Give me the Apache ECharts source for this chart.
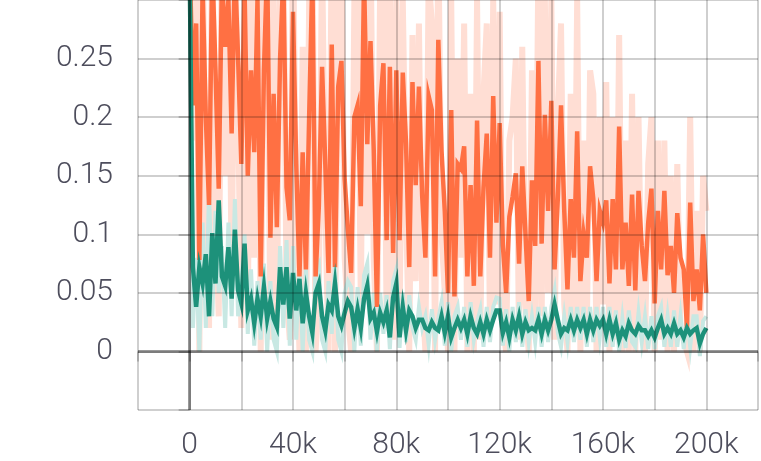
<!DOCTYPE html>
<html>
<head>
<meta charset="utf-8">
<script src="https://cdn.jsdelivr.net/npm/echarts@6/dist/echarts.min.js"></script>
<style>
html,body{margin:0;padding:0;background:#fff;}
#chart{width:761px;height:461px;}
</style>
</head>
<body>
<div id="chart"></div>
<script>
// Step interval between logged points (in training steps)
const stepInterval = 1250;

// Smoothed loss, orange run
const orangeSmooth = [0.34,0.21,0.28,0.078,0.31,0.20,0.125,0.33,0.24,0.139,
0.32,0.26,0.30,0.186,0.33,0.25,0.16,0.31,0.15,0.24,
0.17,0.30,0.064,0.24,0.33,0.097,0.22,0.106,0.25,0.32,
0.14,0.112,0.29,0.16,0.064,0.17,0.07,0.20,0.32,0.064,
0.124,0.243,0.16,0.067,0.262,0.072,0.226,0.248,0.147,0.104,
0.067,0.20,0.21,0.124,0.32,0.177,0.265,0.172,0.038,0.21,
0.246,0.095,0.243,0.084,0.24,0.095,0.238,0.178,0.072,0.23,
0.142,0.226,0.133,0.08,0.218,0.206,0.064,0.266,0.171,0.12,
0.05,0.206,0.047,0.16,0.156,0.175,0.064,0.142,0.056,0.197,
0.064,0.14,0.186,0.08,0.218,0.11,0.195,0.09,0.05,0.115,
0.132,0.152,0.075,0.158,0.10,0.043,0.146,0.09,0.248,0.092,
0.202,0.12,0.214,0.07,0.13,0.21,0.12,0.053,0.13,0.08,
0.188,0.06,0.10,0.08,0.158,0.13,0.06,0.12,0.11,0.129,
0.058,0.13,0.07,0.192,0.07,0.11,0.056,0.134,0.052,0.137,
0.09,0.06,0.11,0.139,0.041,0.12,0.07,0.137,0.065,0.09,
0.05,0.118,0.08,0.07,0.02,0.127,0.043,0.07,0.035,0.10,0.05];

// Raw loss, orange run
const orangeRaw = [0.36,0.18,0.36,0.0,0.36,0.10,0.02,0.36,0.12,0.03,
0.36,0.15,0.36,0.06,0.36,0.20,0.02,0.36,0.04,0.30,
0.08,0.36,0.0,0.30,0.36,0.01,0.30,0.02,0.32,0.36,
0.05,0.01,0.36,0.10,0.0,0.26,0.0,0.30,0.36,0.0,
0.05,0.34,0.12,0.0,0.36,0.0,0.30,0.34,0.08,0.03,
0.0,0.30,0.32,0.04,0.36,0.10,0.36,0.08,0.0,0.32,
0.34,0.02,0.32,0.01,0.30,0.02,0.30,0.12,0.0,0.27,
0.06,0.28,0.05,0.0,0.32,0.28,0.0,0.36,0.10,0.05,
0.0,0.30,0.0,0.25,0.08,0.28,0.0,0.22,0.0,0.30,
0.01,0.22,0.28,0.02,0.30,0.04,0.29,0.02,0.0,0.18,
0.20,0.25,0.01,0.26,0.04,0.0,0.24,0.02,0.34,0.03,
0.30,0.05,0.30,0.01,0.20,0.28,0.04,0.0,0.22,0.02,
0.30,0.0,0.18,0.02,0.24,0.22,0.0,0.20,0.04,0.23,
0.0,0.20,0.01,0.27,0.0,0.18,0.0,0.22,0.0,0.20,
0.03,0.0,0.16,0.20,0.0,0.18,0.01,0.18,0.0,0.15,
0.0,0.16,0.02,0.01,0.0,0.20,0.0,0.12,0.0,0.15,0.12];

// Smoothed loss, teal run
const tealSmooth = [0.33,0.072,0.038,0.072,0.058,0.083,0.030,0.101,0.058,0.129,
0.064,0.056,0.089,0.045,0.104,0.052,0.041,0.092,0.035,0.045,
0.024,0.045,0.030,0.055,0.028,0.043,0.028,0.021,0.072,0.040,
0.072,0.028,0.067,0.035,0.062,0.024,0.050,0.030,0.016,0.050,
0.058,0.030,0.018,0.040,0.035,0.058,0.030,0.022,0.033,0.043,
0.038,0.020,0.036,0.020,0.045,0.056,0.028,0.033,0.017,0.033,
0.025,0.035,0.012,0.046,0.058,0.012,0.038,0.018,0.035,0.030,
0.020,0.027,0.027,0.020,0.018,0.025,0.020,0.018,0.030,0.016,
0.030,0.012,0.020,0.027,0.020,0.027,0.015,0.030,0.020,0.015,
0.025,0.015,0.027,0.018,0.027,0.035,0.035,0.016,0.025,0.012,
0.027,0.018,0.030,0.015,0.025,0.018,0.020,0.018,0.027,0.015,
0.027,0.018,0.027,0.040,0.027,0.015,0.020,0.018,0.027,0.018,
0.027,0.020,0.027,0.015,0.027,0.018,0.027,0.022,0.027,0.015,
0.027,0.015,0.024,0.010,0.018,0.013,0.024,0.018,0.015,0.022,
0.018,0.018,0.013,0.018,0.012,0.020,0.027,0.015,0.020,0.015,
0.024,0.015,0.018,0.012,0.020,0.015,0.018,0.020,0.007,0.015,0.020];

// Raw loss, teal run
const tealRaw = [0.33,0.02,0.08,0.0,0.11,0.02,0.14,0.03,0.12,0.05,
0.09,0.02,0.11,0.03,0.13,0.03,0.06,0.10,0.015,0.07,
0.005,0.06,0.01,0.075,0.0,0.06,0.01,0.0,0.09,0.02,
0.095,0.005,0.09,0.01,0.08,0.0,0.07,0.01,0.0,0.07,
0.075,0.01,0.0,0.06,0.015,0.075,0.01,0.0,0.05,0.06,
0.055,0.0,0.055,0.005,0.065,0.075,0.01,0.05,0.0,0.05,
0.015,0.048,0.002,0.06,0.07,0.003,0.05,0.008,0.048,0.02,
0.01,0.038,0.02,0.03,0.006,0.036,0.01,0.028,0.042,0.005,
0.042,0.0,0.03,0.038,0.01,0.038,0.004,0.042,0.01,0.025,
0.036,0.004,0.038,0.008,0.038,0.046,0.045,0.005,0.036,0.0,
0.038,0.008,0.042,0.004,0.036,0.008,0.03,0.008,0.038,0.004,
0.038,0.008,0.038,0.052,0.016,0.004,0.03,0.008,0.038,0.008,
0.038,0.01,0.038,0.004,0.038,0.008,0.038,0.012,0.038,0.004,
0.038,0.004,0.035,0.0,0.028,0.003,0.035,0.008,0.004,0.033,
0.008,0.03,0.002,0.03,0.002,0.03,0.038,0.004,0.03,0.004,
0.035,0.004,0.03,0.002,0.03,0.004,0.03,0.03,-0.004,0.026,0.03];

// Axis ticks
const xMin = -20000, xMax = 220000, xInterval = 20000, xLabelEvery = 40000;
const yMin = -0.05, yMax = 0.3, yInterval = 0.05;

function pairs(vals){ return vals.map((v,i)=>[i*stepInterval, v]); }

const chart = echarts.init(document.getElementById('chart'), null, {renderer:'canvas'});
const gridColor = 'rgba(0,0,0,0.19)';
const labelStyle = {color:'#4d4d5c', fontFamily:'Roboto', fontWeight:300, fontSize:30};

chart.setOption({
  animation:false,
  backgroundColor:'#fff',
  grid:{left:138, top:0, width:624, height:410, containLabel:false},
  xAxis:{
    type:'value', min:xMin, max:xMax, interval:xInterval, z:5,
    axisLine:{show:false},
    axisTick:{show:true, length:10, lineStyle:{color:gridColor, width:2}},
    splitLine:{show:true, lineStyle:{color:gridColor, width:2}},
    axisLabel:Object.assign({margin:20, showMinLabel:true, showMaxLabel:true,
      formatter:v=>{ if(v<0||v>200000||v%xLabelEvery!==0) return ''; return v===0?'0':(v/1000)+'k'; }}, labelStyle)
  },
  yAxis:{
    type:'value', min:yMin, max:yMax, interval:yInterval, z:5,
    axisLine:{show:false},
    axisTick:{show:true, length:11, lineStyle:{color:gridColor, width:2}},
    splitLine:{show:true, lineStyle:{color:gridColor, width:2}},
    axisLabel:Object.assign({margin:25,
      formatter:v=>{ const r=Math.round(v*100)/100; if(r<0||r>0.25) return ''; return String(r); }}, labelStyle)
  },
  series:[
    {type:'line', data:pairs(orangeRaw), symbol:'none', z:1, clip:true,
      lineStyle:{color:'#ffded4', width:6, join:'miter'}},
    {type:'line', data:pairs(tealRaw), symbol:'none', z:1, clip:true,
      lineStyle:{color:'#c8e8e3', width:4, join:'miter'}},
    {type:'line', data:pairs(orangeSmooth), symbol:'none', z:2, clip:true,
      lineStyle:{color:'#ff7043', width:4.5, join:'miter'}},
    {type:'line', data:pairs(tealSmooth), symbol:'none', z:3, clip:true,
      lineStyle:{color:'#1d917a', width:4.5, join:'miter'}},
    {type:'line', data:[], symbol:'none', z:6,
      markLine:{silent:true, symbol:'none', animation:false, label:{show:false},
        lineStyle:{color:'rgba(0,0,0,0.4)', width:3, type:'solid'},
        data:[{yAxis:0},{xAxis:0}]}}
  ]
});
</script>
</body>
</html>
